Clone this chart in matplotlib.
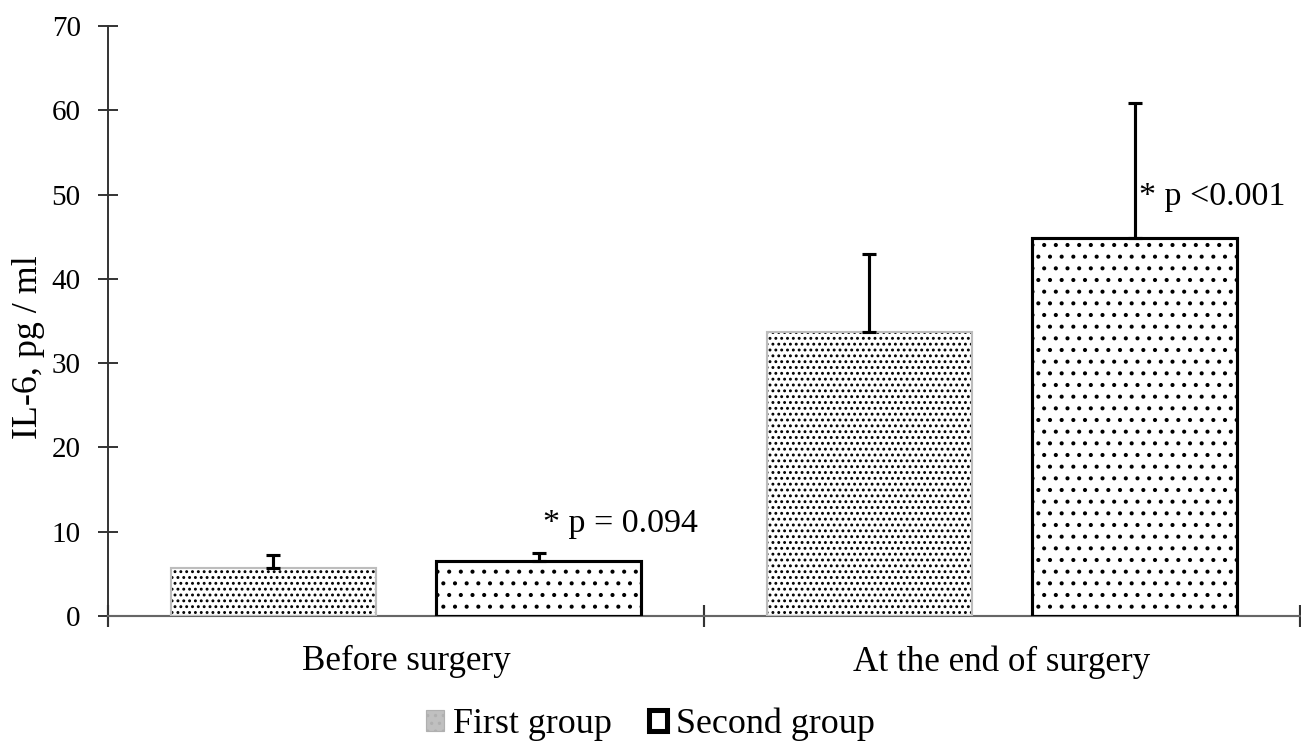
import matplotlib
matplotlib.use("Agg")
import matplotlib.pyplot as plt
from matplotlib.patches import Patch
import numpy as np

categories = ["Before surgery", "At the end of surgery"]
series_names = ["First group", "Second group"]
first_vals = [5.7, 33.7]
first_err = [1.5, 9.3]
second_vals = [6.5, 44.8]
second_err = [1.0, 16.1]
annot_texts = ["* p = 0.094", "* p <0.001"]
annot_y = [10.9, 49.7]
yticks = [0, 10, 20, 30, 40, 50, 60, 70]

DPI = 140
plt.rcParams["font.family"] = ["Liberation Serif", "DejaVu Serif"]
plt.rcParams["hatch.linewidth"] = 0.9

fig = plt.figure(figsize=(1301 / DPI, 744 / DPI), dpi=DPI)
ax = fig.add_axes([108 / 1301, 1 - 616 / 744, (1300 - 108) / 1301, (616 - 26) / 744])

x = np.arange(len(categories))
width = 0.345
off = width / 2 + 0.05

# First group: dense black dots, gray outline
ax.bar(x - off, first_vals, width, facecolor="white", edgecolor="black",
       hatch="....", linewidth=0, zorder=2)
ax.bar(x - off, first_vals, width, fill=False, edgecolor="#bdbdbd",
       linewidth=1.1, zorder=3)
# Second group: sparse dots, black outline
ax.bar(x + off, second_vals, width, facecolor="white", edgecolor="black",
       hatch="..", linewidth=0, zorder=2)
ax.bar(x + off, second_vals, width, fill=False, edgecolor="black",
       linewidth=1.6, zorder=3)

ekw = dict(fmt="none", ecolor="black", elinewidth=1.6, capsize=3.8,
           capthick=1.6, zorder=4)
ax.errorbar(x - off, first_vals, yerr=[np.zeros(len(x)), first_err], **ekw)
ax.errorbar(x + off, second_vals, yerr=[np.zeros(len(x)), second_err], **ekw)

for xi, t, yy in zip(x + off, annot_texts, annot_y):
    ax.text(xi + 0.008, yy, t, ha="left", va="center", fontsize=17.5)

ax.set_xlim(-0.5, len(categories) - 0.5)
ax.set_ylim(0, 70)
ax.set_yticks(yticks)
ax.tick_params(axis="y", direction="inout", length=10, width=1.0,
               color="#333333", labelsize=15, pad=9)
ax.set_xticks(x)
ax.set_xticklabels(categories, fontsize=18)
ax.tick_params(axis="x", which="major", length=0, pad=15)
ax.set_xticks(np.arange(len(categories) + 1) - 0.5, minor=True)
ax.tick_params(axis="x", which="minor", direction="inout", length=11,
               width=1.1, color="#333333")

for s in ["top", "right"]:
    ax.spines[s].set_visible(False)
ax.spines["left"].set_color("#333333")
ax.spines["left"].set_linewidth(1.0)
ax.spines["bottom"].set_color("#666666")
ax.spines["bottom"].set_linewidth(1.1)

ax.set_ylabel("IL-6, pg / ml", fontsize=18.5)
ax.yaxis.set_label_coords(-0.053, 0.456)

handles = [
    Patch(facecolor="#c0c0c0", edgecolor="#b0b0b0", hatch="...", linewidth=0.6),
    Patch(facecolor="white", edgecolor="black", linewidth=2.6),
]
fig.legend(handles, series_names, loc="lower center", ncol=2, frameon=False,
           fontsize=18.5, handlelength=0.5, handleheight=0.5,
           handletextpad=0.25, columnspacing=1.05, bbox_to_anchor=(0.5, -0.04))

fig.savefig("out.png", dpi=DPI)
